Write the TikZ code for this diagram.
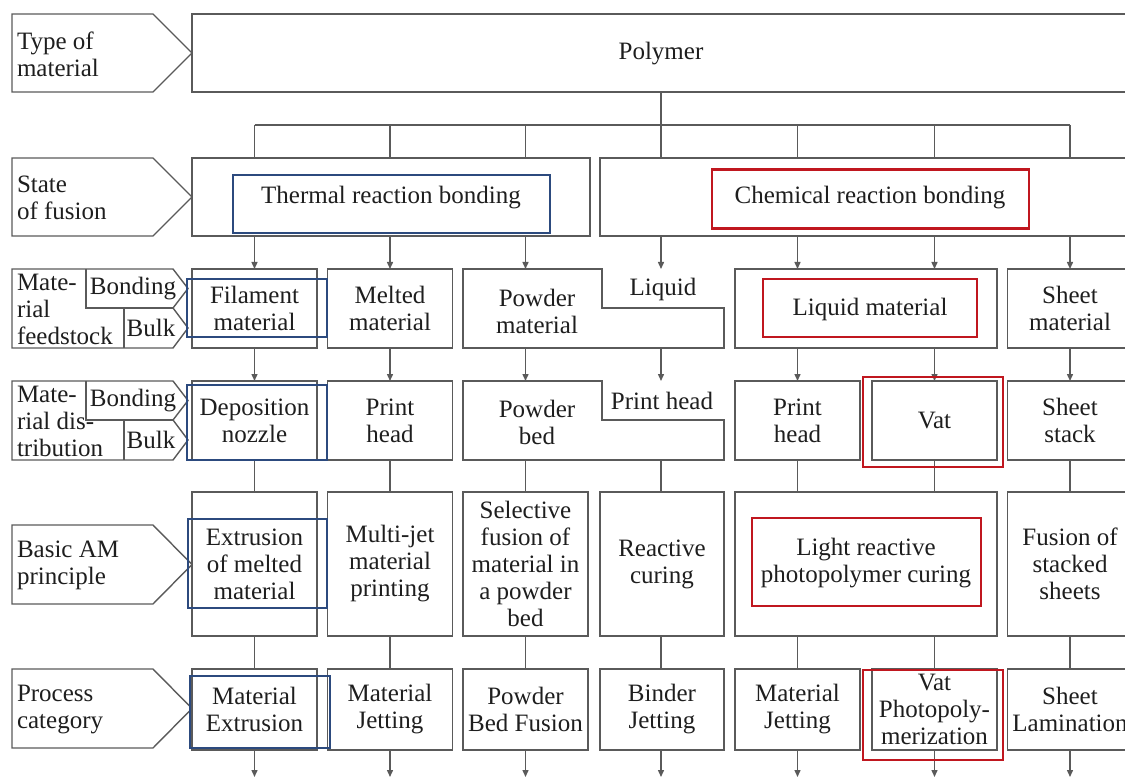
\documentclass[tikz,border=0pt]{standalone}
\usepackage{fontspec}
\setmainfont{Liberation Serif}
\usetikzlibrary{arrows.meta}
\definecolor{lg}{HTML}{5A5A5A}
\definecolor{tc}{HTML}{1E1E1E}
\definecolor{hb}{HTML}{2C4A7E}
\definecolor{hr}{HTML}{C0171F}
\begin{document}
\begin{tikzpicture}[x=1pt,y=-1pt,
  every node/.style={font=\fontsize{25}{27}\selectfont, text=tc, inner sep=0pt, outer sep=0pt, align=center},
  box/.style={draw=lg, line width=1.4pt, align=center, minimum width=125pt},
  conn/.style={draw=lg, line width=1.4pt},
  arr/.style={conn, -{Triangle[length=7pt,width=6pt]}},
  lab/.style={align=left, anchor=west},
  hlb/.style={draw=hb, line width=2.6pt},
  hlr/.style={draw=hr, line width=2.6pt}]
\useasboundingbox (0,0) rectangle (1125,778);
\clip (0,0) rectangle (1125,778);
% column centres
\coordinate (c1) at (254.5,0);
\coordinate (c2) at (390,0);
\coordinate (c3) at (525.5,0);
\coordinate (c4) at (661,0);
\coordinate (c5) at (797.5,0);
\coordinate (c6) at (934.5,0);
\coordinate (c7) at (1070,0);
% ---------- row 1
\draw[conn] (12,14) -- (153,14) -- (192,53) -- (153,92) -- (12,92) -- cycle;
\node[lab] (lab1) at (17,54) {Type of\\material};
\node[box, minimum width=938pt, minimum height=78pt] (poly) at (661,53) {};
\node (polyt) at (661,54) {Polymer};
% ---------- row 2
\draw[conn] (12,158) -- (153,158) -- (192,197) -- (153,236) -- (12,236) -- cycle;
\node[lab] (lab2) at (17,198) {State\\of fusion};
\node[box, minimum width=398pt, minimum height=78pt] (thermal) at (391,197) {};
\node (thermalt) at (391,198) {Thermal reaction bonding};
\node[box, minimum width=540pt, minimum height=78pt] (chem) at (870,197) {};
\node (chemt) at (870,198) {Chemical reaction bonding};
% bus
\coordinate (bus) at (0,125);
\draw[conn] (bus -| c1) -- (bus -| c7);
\draw[conn] (poly.south -| c4) -- (chem.north -| c4);
\foreach \c in {c1,c2,c3} \draw[conn] (bus -| \c) -- (thermal.north -| \c);
\foreach \c in {c5,c6,c7} \draw[conn] (bus -| \c) -- (chem.north -| \c);
% ---------- row 3
\draw[conn] (12,269) -- (173,269) -- (188,288.5) -- (173,308) -- (188,328) -- (173,348) -- (12,348) -- cycle;
\draw[conn] (86,269) -- (86,308) -- (173,308);
\draw[conn] (124,308) -- (124,348);
\node[lab] (lab3) at (17,309) {Mate-\\rial\\feedstock};
\node (bond3) at (133,289) {Bonding};
\node (bulk3) at (151,328) {Bulk};
\node[box, minimum height=79pt] (f1) at (c1 |- 0,308.5) {Filament\\material};
\node[box, minimum height=79pt] (f2) at (c2 |- 0,308.5) {Melted\\material};
\coordinate (pA) at (463,269);
\coordinate (pB) at (724,348);
\draw[conn] (pA) -- (602,269) -- (602,308) -- (724,308) -- (pB) -- (463,348) -- cycle;
\node (f3) at (537,311) {Powder\\material};
\node (f4) at (663,289) {Liquid};
\node[box, minimum width=262pt, minimum height=79pt] (f5) at (866,308.5) {};
\node (f5t) at (870,309) {Liquid material};
\node[box, minimum height=79pt] (f7) at (c7 |- 0,308.5) {Sheet\\material};
% arrows row 2 -> 3
\draw[arr] (thermal.south -| c1) -- (f1.north);
\draw[arr] (thermal.south -| c2) -- (f2.north);
\draw[arr] (thermal.south -| c3) -- (pA -| c3);
\draw[arr] (chem.south -| c4) -- (pA -| c4);
\draw[arr] (chem.south -| c5) -- (f5.north -| c5);
\draw[arr] (chem.south -| c6) -- (f5.north -| c6);
\draw[arr] (chem.south -| c7) -- (f7.north);
% ---------- row 4
\draw[conn] (12,381) -- (173,381) -- (188,400.5) -- (173,420) -- (188,440) -- (173,460) -- (12,460) -- cycle;
\draw[conn] (86,381) -- (86,420) -- (173,420);
\draw[conn] (124,420) -- (124,460);
\node[lab] (lab4) at (17,421) {Mate-\\rial dis-\\tribution};
\node (bond4) at (133,401) {Bonding};
\node (bulk4) at (151,440) {Bulk};
\node[box, minimum height=79pt] (d1) at (c1 |- 0,420.5) {Deposition\\nozzle};
\node[box, minimum height=79pt] (d2) at (c2 |- 0,420.5) {Print\\head};
\coordinate (qA) at (463,381);
\coordinate (qB) at (724,460);
\draw[conn] (qA) -- (602,381) -- (602,420) -- (724,420) -- (qB) -- (463,460) -- cycle;
\node (d3) at (537,422) {Powder\\bed};
\node (d4) at (662,401) {Print head};
\node[box, minimum height=79pt] (d5) at (c5 |- 0,420.5) {Print\\head};
\node[box, minimum height=79pt] (d6) at (c6 |- 0,420.5) {Vat};
\node[box, minimum height=79pt] (d7) at (c7 |- 0,420.5) {Sheet\\stack};
% arrows row 3 -> 4
\draw[arr] (f1.south) -- (d1.north);
\draw[arr] (f2.south) -- (d2.north);
\draw[arr] (pB -| c3) -- (qA -| c3);
\draw[arr] (pB -| c4) -- (qA -| c4);
\draw[arr] (f5.south -| c5) -- (d5.north);
\draw[arr] (f5.south -| c6) -- (d6.north);
\draw[arr] (f7.south) -- (d7.north);
% ---------- row 5
\draw[conn] (12,525) -- (153,525) -- (192,564.5) -- (153,604) -- (12,604) -- cycle;
\node[lab] (lab5) at (17,565.5) {Basic AM\\principle};
\node[box, minimum height=144pt] (e1) at (c1 |- 0,564) {Extrusion\\of melted\\material};
\node[box, minimum height=144pt] (e2) at (c2 |- 0,564) {Multi-jet\\material\\printing};
\node[box, minimum height=144pt] (e3) at (c3 |- 0,564) {Selective\\fusion of\\material in\\a powder\\bed};
\node[box, minimum width=124pt, minimum height=144pt] (e4) at (662,564) {Reactive\\curing};
\node[box, minimum width=262pt, minimum height=144pt] (e5) at (866,564) {};
\node (e5t) at (866,563) {Light reactive\\photopolymer curing};
\node[box, minimum height=144pt] (e7) at (c7 |- 0,564) {Fusion of\\stacked\\sheets};
% connectors row 4 -> 5
\draw[conn] (d1.south) -- (e1.north);
\draw[conn] (d2.south) -- (e2.north);
\draw[conn] (qB -| c3) -- (e3.north -| c3);
\draw[conn] (qB -| c4) -- (e4.north -| c4);
\draw[conn] (d5.south) -- (e5.north -| c5);
\draw[conn] (d6.south) -- (e5.north -| c6);
\draw[conn] (d7.south) -- (e7.north);
% ---------- row 6
\draw[conn] (12,669) -- (153,669) -- (192,708.5) -- (153,748) -- (12,748) -- cycle;
\node[lab] (lab6) at (17,709.5) {Process\\category};
\node[box, minimum height=81pt] (g1) at (c1 |- 0,709.5) {Material\\Extrusion};
\node[box, minimum height=81pt] (g2) at (c2 |- 0,709.5) {Material\\Jetting};
\node[box, minimum height=81pt] (g3) at (c3 |- 0,709.5) {Powder\\Bed Fusion};
\node[box, minimum width=124pt, minimum height=81pt] (g4) at (662,709.5) {Binder\\Jetting};
\node[box, minimum height=81pt] (g5) at (c5 |- 0,709.5) {Material\\Jetting};
\node[box, minimum height=81pt] (g6) at (c6 |- 0,709.5) {Vat\\Photopoly-\\merization};
\node[box, minimum height=81pt] (g7) at (c7 |- 0,709.5) {Sheet\\Lamination};
% connectors row 5 -> 6
\draw[conn] (e1.south) -- (g1.north);
\draw[conn] (e2.south) -- (g2.north);
\draw[conn] (e3.south) -- (g3.north);
\draw[conn] (e4.south -| c4) -- (g4.north -| c4);
\draw[conn] (e5.south -| c5) -- (g5.north);
\draw[conn] (e5.south -| c6) -- (g6.north);
\draw[conn] (e7.south) -- (g7.north);
% bottom arrows
\coordinate (bot) at (0,777);
\draw[arr] (g1.south) -- (bot -| c1);
\draw[arr] (g2.south) -- (bot -| c2);
\draw[arr] (g3.south) -- (bot -| c3);
\draw[arr] (g4.south -| c4) -- (bot -| c4);
\draw[arr] (g5.south) -- (bot -| c5);
\draw[arr] (g6.south) -- (bot -| c6);
\draw[arr] (g7.south) -- (bot -| c7);
% ---------- highlight frames
\node[hlb, minimum width=317pt, minimum height=58pt] (hb1) at (391.5,204) {};
\node[hlb, minimum width=140pt, minimum height=58pt] (hb2) at (257,308) {};
\node[hlb, minimum width=140pt, minimum height=75pt] (hb3) at (257,422.5) {};
\node[hlb, minimum width=139pt, minimum height=89pt] (hb4) at (257.5,563.5) {};
\node[hlb, minimum width=140pt, minimum height=72pt] (hb5) at (260,712) {};
\node[hlr, minimum width=317pt, minimum height=59pt] (hr1) at (870.5,199) {};
\node[hlr, minimum width=214pt, minimum height=58pt] (hr2) at (870,308) {};
\node[hlr, minimum width=140pt, minimum height=90pt] (hr3) at (933,422) {};
\node[hlr, minimum width=229pt, minimum height=88pt] (hr4) at (866.5,562) {};
\node[hlr, minimum width=140pt, minimum height=90pt] (hr5) at (933,715) {};
\end{tikzpicture}
\end{document}
